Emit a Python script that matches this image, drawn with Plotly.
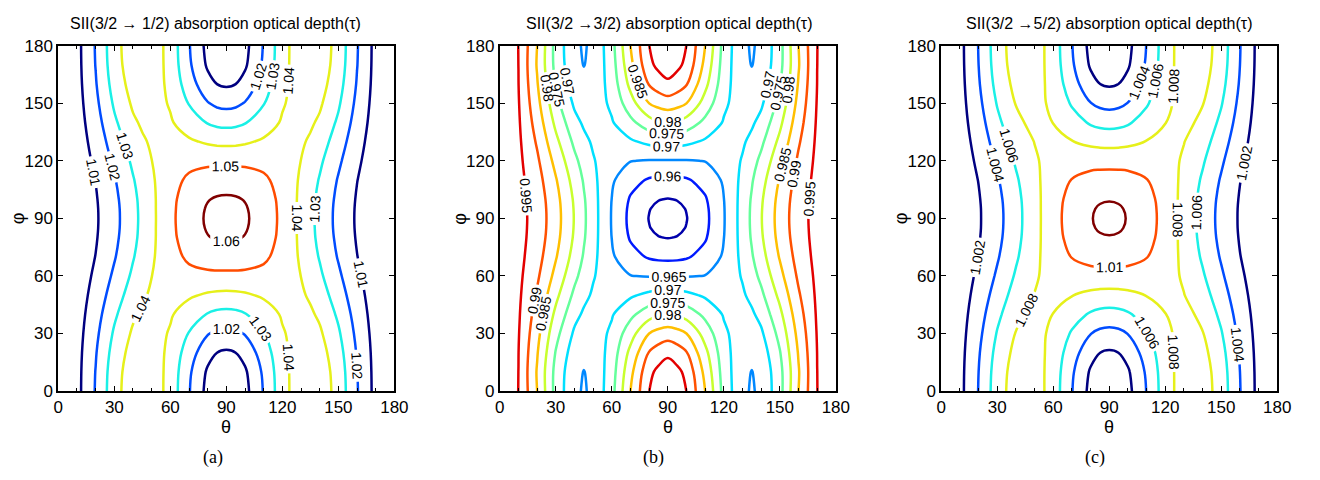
import plotly.graph_objects as go

# ---- data (quarter grids; the figure is symmetric in theta->180-theta and phi->180-phi) ----
theta_q = [0, 10, 20, 30, 40, 45, 50, 60, 70, 80, 85, 90]
phi_q = [0, 10, 20, 30, 40, 50, 60, 70, 80, 85, 90]

tau_a_q = [
    [1.0016, 1.0070, 1.0207, 1.0362, 1.0463, 1.0477, 1.0463, 1.0362, 1.0207, 1.0070, 1.0030, 1.0016],
    [1.0016, 1.0069, 1.0203, 1.0356, 1.0458, 1.0473, 1.0461, 1.0365, 1.0217, 1.0086, 1.0048, 1.0035],
    [1.0016, 1.0066, 1.0193, 1.0339, 1.0441, 1.0459, 1.0453, 1.0375, 1.0248, 1.0133, 1.0100, 1.0088],
    [1.0016, 1.0061, 1.0177, 1.0314, 1.0415, 1.0439, 1.0442, 1.0391, 1.0295, 1.0206, 1.0179, 1.0170],
    [1.0016, 1.0055, 1.0158, 1.0283, 1.0384, 1.0414, 1.0428, 1.0410, 1.0352, 1.0294, 1.0276, 1.0270],
    [1.0016, 1.0049, 1.0137, 1.0249, 1.0350, 1.0387, 1.0413, 1.0430, 1.0413, 1.0388, 1.0380, 1.0377],
    [1.0016, 1.0043, 1.0118, 1.0218, 1.0318, 1.0362, 1.0399, 1.0448, 1.0471, 1.0477, 1.0477, 1.0477],
    [1.0016, 1.0039, 1.0102, 1.0192, 1.0293, 1.0341, 1.0387, 1.0464, 1.0518, 1.0549, 1.0557, 1.0559],
    [1.0016, 1.0036, 1.0092, 1.0176, 1.0276, 1.0328, 1.0379, 1.0474, 1.0548, 1.0596, 1.0608, 1.0612],
    [1.0016, 1.0035, 1.0089, 1.0171, 1.0272, 1.0325, 1.0378, 1.0476, 1.0556, 1.0608, 1.0622, 1.0626],
    [1.0016, 1.0035, 1.0088, 1.0170, 1.0270, 1.0324, 1.0377, 1.0477, 1.0559, 1.0612, 1.0626, 1.0631],
]

tau_b_q = [
    [0.9986, 0.99495, 0.98500, 0.97330, 0.96569, 0.96468, 0.96569, 0.97330, 0.98500, 0.99495, 0.99750, 0.99900],
    [0.9986, 0.99498, 0.98461, 0.97348, 0.96611, 0.96490, 0.96588, 0.97280, 0.98358, 0.99380, 0.99620, 0.99780],
    [0.9986, 0.99505, 0.98536, 0.97469, 0.96733, 0.96598, 0.96642, 0.97208, 0.98135, 0.99030, 0.99250, 0.99390],
    [0.9986, 0.99530, 0.98650, 0.97655, 0.96920, 0.96747, 0.96726, 0.97096, 0.97794, 0.98500, 0.98670, 0.98760],
    [0.9986, 0.99560, 0.98791, 0.97883, 0.97149, 0.96929, 0.96828, 0.96959, 0.97376, 0.97799, 0.97940, 0.98000],
    [0.9986, 0.99590, 0.98941, 0.98125, 0.97393, 0.97123, 0.96937, 0.96814, 0.96931, 0.97114, 0.97175, 0.97197],
    [0.9986, 0.99620, 0.99082, 0.98353, 0.97622, 0.97306, 0.97040, 0.96677, 0.96513, 0.96471, 0.96468, 0.96468],
    [0.9986, 0.99650, 0.99196, 0.98539, 0.97809, 0.97454, 0.97123, 0.96566, 0.96173, 0.95946, 0.95891, 0.95873],
    [0.9986, 0.99670, 0.99271, 0.98660, 0.97931, 0.97551, 0.97178, 0.96493, 0.95950, 0.95604, 0.95515, 0.95485],
    [0.9986, 0.99675, 0.99291, 0.98692, 0.97962, 0.97577, 0.97192, 0.96474, 0.95892, 0.95515, 0.95417, 0.95384],
    [0.9986, 0.99680, 0.99297, 0.98703, 0.97973, 0.97585, 0.97197, 0.96468, 0.95873, 0.95485, 0.95384, 0.95350],
]

tau_c_q = [
    [1.00040, 1.00144, 1.00407, 1.00707, 1.00902, 1.00929, 1.00902, 1.00707, 1.00407, 1.00144, 1.00067, 1.00040],
    [1.00040, 1.00142, 1.00400, 1.00695, 1.00891, 1.00920, 1.00897, 1.00713, 1.00428, 1.00176, 1.00101, 1.00076],
    [1.00040, 1.00136, 1.00381, 1.00663, 1.00858, 1.00894, 1.00883, 1.00733, 1.00487, 1.00266, 1.00201, 1.00179],
    [1.00040, 1.00127, 1.00350, 1.00614, 1.00809, 1.00855, 1.00860, 1.00762, 1.00577, 1.00405, 1.00354, 1.00336],
    [1.00040, 1.00116, 1.00313, 1.00554, 1.00748, 1.00806, 1.00833, 1.00798, 1.00688, 1.00576, 1.00542, 1.00530],
    [1.00040, 1.00104, 1.00273, 1.00489, 1.00683, 1.00755, 1.00804, 1.00837, 1.00806, 1.00757, 1.00741, 1.00735],
    [1.00040, 1.00093, 1.00236, 1.00429, 1.00623, 1.00707, 1.00777, 1.00873, 1.00917, 1.00928, 1.00929, 1.00929],
    [1.00040, 1.00084, 1.00205, 1.00380, 1.00573, 1.00667, 1.00755, 1.00903, 1.01007, 1.01067, 1.01082, 1.01086],
    [1.00040, 1.00078, 1.00186, 1.00347, 1.00541, 1.00641, 1.00740, 1.00922, 1.01066, 1.01158, 1.01185, 1.01192],
    [1.00040, 1.00076, 1.00180, 1.00339, 1.00532, 1.00635, 1.00737, 1.00927, 1.01081, 1.01185, 1.01215, 1.01225],
    [1.00040, 1.00076, 1.00179, 1.00336, 1.00530, 1.00633, 1.00735, 1.00929, 1.01086, 1.01192, 1.01225, 1.01235],
]

levels_a = [1.01, 1.02, 1.03, 1.04, 1.05, 1.06]
levels_b = [0.955, 0.96, 0.965, 0.97, 0.975, 0.98, 0.985, 0.99, 0.995]
levels_c = [1.002, 1.004, 1.006, 1.008, 1.01, 1.012]

colors_a = ["#000080", "#004CFF", "#1AF0E6", "#E6F01A", "#FF4C00", "#800000"]
colors_b = ["#0000AB", "#001AFF", "#0088FF", "#00E0FF", "#64FF9B", "#C8FF2E",
            "#FFBF00", "#FF5100", "#E30000"]
colors_c = colors_a

titles = ["SII(3/2 \u2192 1/2) absorption optical depth(\u03c4)",
          "SII(3/2 \u21923/2) absorption optical depth(\u03c4)",
          "SII(3/2 \u21925/2) absorption optical depth(\u03c4)"]
captions = ["(a)", "(b)", "(c)"]
tick_vals = [0, 30, 60, 90, 120, 150, 180]
tick_text = ["0", "30", "60", "90", "120", "150", "180"]


def mirror_axis(q):
    return q + [180 - v for v in reversed(q[:-1])]


def mirror_grid(g):
    rows = [r + r[-2::-1] for r in g]
    return rows + rows[-2::-1]


theta = mirror_axis(theta_q)
phi = mirror_axis(phi_q)

SANS = "Liberation Sans, Arial, Helvetica, sans-serif"
SERIF = "Liberation Serif, Times New Roman, serif"

# The page keeps the browser's default 8px body margin, so the figure is
# 16px smaller than the 1320x480 window and all page positions shift by 8px.
PAGE_W, PAGE_H, M = 1320, 480, 8
W, H = PAGE_W - 2 * M, PAGE_H - 2 * M


def fx(px):
    return (px - M) / W


def fy(py):
    return 1 - (py - M) / H


plot_px = [(54, 395), (502, 843), (950, 1291)]
y_px = (38, 398)
title_x = [214, 673.5, 1120.5]
phi_x = [13, 462, 910]
cap_x = [210.5, 658, 1106.5]

fig = go.Figure()
panels = [(tau_a_q, levels_a, colors_a, ".2f"),
          (tau_b_q, levels_b, colors_b, ".3~f"),
          (tau_c_q, levels_c, colors_c, ".3~f")]

for i, (zq, levs, cols, fmt) in enumerate(panels):
    z = mirror_grid(zq)
    sfx = "" if i == 0 else str(i + 1)
    for lev, col in zip(levs, cols):
        fig.add_trace(go.Contour(
            x=theta, y=phi, z=z,
            xaxis="x" + sfx, yaxis="y" + sfx,
            autocontour=False,
            contours=dict(start=lev, end=lev, size=1, coloring="none",
                          showlabels=True, labelformat=fmt,
                          labelfont=dict(family=SANS, size=14, color="black")),
            line=dict(color=col, width=2.5, smoothing=1),
            showscale=False, hoverinfo="skip",
        ))

layout = dict(width=W, height=H, margin=dict(l=0, r=0, t=0, b=0),
              paper_bgcolor="white", plot_bgcolor="white", showlegend=False)

ydom = [fy(y_px[1]), fy(y_px[0])]
annotations = []
for i in range(3):
    sfx = "" if i == 0 else str(i + 1)
    x0, x1 = plot_px[i]
    common = dict(range=[0, 180], tickvals=tick_vals, ticktext=tick_text,
                  ticks="inside", ticklen=5, tickwidth=1, tickcolor="black",
                  showline=True, linewidth=2, linecolor="black", mirror="ticks",
                  showgrid=False, zeroline=False,
                  tickfont=dict(family=SANS, size=17, color="black"),
                  fixedrange=True)
    layout["xaxis" + sfx] = dict(common, domain=[fx(x0), fx(x1)], anchor="y" + sfx,
                                 minor=dict(ticks="inside", ticklen=3, dtick=10,
                                            tickcolor="black"))
    layout["yaxis" + sfx] = dict(common, domain=ydom, anchor="x" + sfx)
    annotations.append(dict(text=titles[i], x=fx(title_x[i]), y=fy(15),
                            xref="paper", yref="paper", showarrow=False,
                            xanchor="center", yanchor="middle",
                            font=dict(family=SANS, size=16, color="black")))
    annotations.append(dict(text="\u03b8", x=fx((x0 + x1) / 2), y=fy(435),
                            xref="paper", yref="paper", showarrow=False,
                            xanchor="center", yanchor="middle",
                            font=dict(family=SANS, size=18, color="black")))
    annotations.append(dict(text="\u03c6", x=fx(phi_x[i]), y=fy(218),
                            xref="paper", yref="paper", showarrow=False,
                            textangle=-90, xanchor="center", yanchor="middle",
                            font=dict(family=SANS, size=18, color="black")))
    annotations.append(dict(text=captions[i], x=fx(cap_x[i]), y=fy(467),
                            xref="paper", yref="paper", showarrow=False,
                            xanchor="center", yanchor="middle",
                            font=dict(family=SERIF, size=18, color="black")))
layout["annotations"] = annotations
fig.update_layout(**layout)

fig.write_html("out.html", config={"displayModeBar": False})
